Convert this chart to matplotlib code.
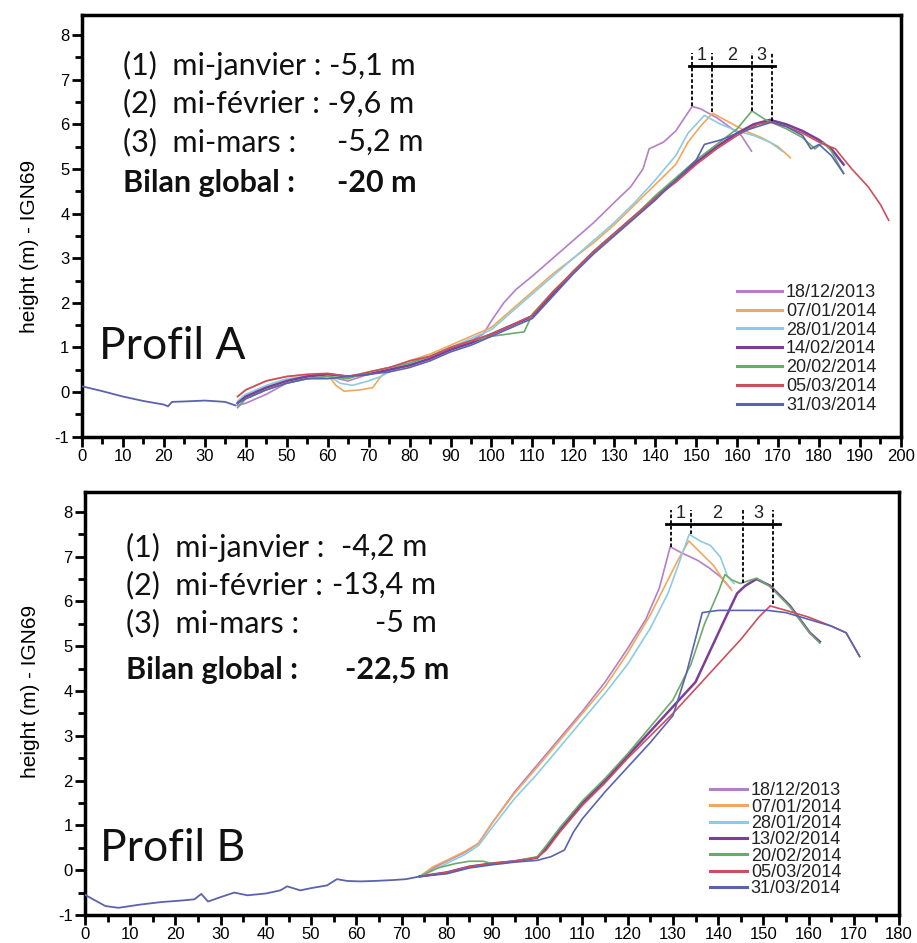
import numpy as np
import matplotlib.pyplot as plt
from matplotlib.ticker import MultipleLocator

plt.rcParams["axes.unicode_minus"] = False

# ---------------- Profil A ----------------
a_common_x = [0, 5, 10, 15, 20, 21, 22, 25, 30, 35, 37.5]
a_common_y = [0.13, 0.02, -0.1, -0.2, -0.28, -0.32, -0.22, -0.21, -0.19, -0.22, -0.3]

a_dates = ["18/12/2013", "07/01/2014", "28/01/2014", "14/02/2014",
           "20/02/2014", "05/03/2014", "31/03/2014"]

a_x = [
    [38, 40, 45, 50, 55, 60, 65, 70, 75, 80, 85, 90, 95, 98, 100, 103, 106, 110, 115, 120,
     125, 130, 134, 137, 138.5, 142, 145, 149, 151, 155, 158, 161, 163.5],
    [38, 40, 45, 50, 55, 60, 62, 64, 68, 71, 73, 75, 80, 85, 90, 95, 100, 105, 110, 115,
     120, 125, 130, 135, 140, 145, 148, 151, 154, 158, 162, 166, 170, 173],
    [38, 40, 45, 50, 55, 60, 63, 66, 70, 73, 75, 80, 85, 90, 95, 100, 105, 110, 115, 120,
     125, 130, 135, 140, 145, 148, 152, 156, 160, 164, 168, 171],
    [38, 40, 45, 50, 55, 60, 65, 70, 75, 80, 85, 90, 95, 100, 105, 110, 115, 120, 125, 130,
     135, 140, 145, 150, 155, 160, 164, 168, 172, 176, 180, 183, 186],
    [38, 40, 45, 50, 55, 60, 65, 70, 75, 80, 85, 90, 95, 100, 104, 108, 110, 115, 120, 125,
     130, 135, 140, 145, 150, 155, 160, 163.6, 167, 172, 176, 179, 181, 183, 186],
    [38, 40, 45, 50, 55, 60, 65, 70, 75, 80, 85, 90, 95, 100, 105, 110, 115, 120, 125, 130,
     135, 140, 145, 150, 155, 160, 165, 168, 172, 176, 180, 184, 188, 192, 195, 197],
    [38, 40, 45, 50, 55, 60, 65, 70, 75, 80, 85, 90, 95, 100, 105, 110, 115, 120, 125, 130,
     135, 140, 145, 150, 152, 156, 160, 165, 168.5, 172, 176, 178, 180, 183, 186],
]
a_y = [
    [-0.3, -0.25, -0.05, 0.2, 0.3, 0.35, 0.25, 0.4, 0.5, 0.6, 0.75, 0.95, 1.15, 1.3, 1.6, 2.0,
     2.3, 2.6, 3.0, 3.4, 3.8, 4.25, 4.6, 5.0, 5.45, 5.6, 5.85, 6.4, 6.35, 6.15, 5.95, 5.75, 5.4],
    [-0.1, 0.05, 0.25, 0.35, 0.38, 0.4, 0.15, 0.02, 0.05, 0.1, 0.35, 0.5, 0.7, 0.85, 1.05, 1.25,
     1.45, 1.85, 2.25, 2.65, 3.0, 3.35, 3.75, 4.2, 4.65, 5.1, 5.6, 5.95, 6.25, 6.05, 5.85, 5.7,
     5.5, 5.25],
    [-0.2, -0.05, 0.15, 0.3, 0.35, 0.38, 0.2, 0.15, 0.25, 0.35, 0.45, 0.65, 0.8, 1.0, 1.2, 1.4,
     1.8, 2.2, 2.6, 3.0, 3.4, 3.8, 4.25, 4.75, 5.3, 5.8, 6.2, 6.0, 5.85, 5.75, 5.6, 5.4],
    [-0.25, -0.1, 0.1, 0.25, 0.35, 0.4, 0.35, 0.4, 0.5, 0.6, 0.75, 0.95, 1.1, 1.3, 1.5, 1.7,
     2.2, 2.7, 3.15, 3.55, 3.95, 4.35, 4.75, 5.15, 5.5, 5.8, 6.0, 6.1, 6.0, 5.85, 5.65, 5.45, 5.1],
    [-0.35, -0.15, 0.05, 0.2, 0.3, 0.35, 0.3, 0.45, 0.55, 0.65, 0.8, 1.0, 1.15, 1.25, 1.3, 1.35,
     1.75, 2.25, 2.7, 3.15, 3.55, 3.95, 4.4, 4.8, 5.2, 5.55, 5.9, 6.3, 6.1, 5.9, 5.7, 5.45, 5.6,
     5.4, 4.9],
    [-0.1, 0.05, 0.25, 0.35, 0.4, 0.42, 0.35, 0.45, 0.55, 0.7, 0.8, 1.0, 1.15, 1.3, 1.5, 1.72,
     2.25, 2.7, 3.15, 3.55, 3.95, 4.35, 4.7, 5.1, 5.45, 5.75, 6.0, 6.05, 5.95, 5.8, 5.6, 5.45,
     5.0, 4.6, 4.2, 3.85],
    [-0.25, -0.15, 0.05, 0.2, 0.3, 0.3, 0.35, 0.4, 0.45, 0.55, 0.7, 0.9, 1.05, 1.25, 1.45, 1.65,
     2.15, 2.65, 3.1, 3.5, 3.9, 4.3, 4.75, 5.2, 5.55, 5.65, 5.8, 5.95, 6.05, 5.95, 5.75, 5.45,
     5.55, 5.3, 4.9],
]

# crest markers (dashed lines) Profil A
a_crest_x = [148.9, 153.9, 163.6, 168.4]
a_crest_y = [6.42, 6.28, 6.3, 6.08]
a_bar_y = 7.3
a_bar_top = 7.6
a_bar_span = [148.2, 169.3]

a_labels = ["(1)  mi-janvier : -5,1 m", "(2)  mi-février : -9,6 m", "(3)  mi-mars :", "Bilan global :"]
a_values = ["", "", "-5,2 m", "-20 m"]

# ---------------- Profil B ----------------
b_common_x = [0, 4.5, 7.4, 12, 17, 21, 24.2, 25.7, 27.2, 30, 33, 35.9, 40, 43.2, 44.7, 47.6,
              50, 53.5, 55.7, 58, 60.8, 64, 68.1, 71, 74]
b_common_y = [-0.55, -0.8, -0.84, -0.77, -0.71, -0.68, -0.65, -0.53, -0.7, -0.6, -0.5, -0.56,
              -0.52, -0.45, -0.36, -0.45, -0.4, -0.34, -0.2, -0.24, -0.25, -0.24, -0.22, -0.2,
              -0.14]

b_dates = ["18/12/2013", "07/01/2014", "28/01/2014", "13/02/2014",
           "20/02/2014", "05/03/2014", "31/03/2014"]

b_x = [
    [74, 77, 80, 84, 87, 90, 95, 100, 105, 110, 115, 120, 124, 127, 129.4, 132, 135.4, 138,
     140.5, 142.7],
    [74, 77, 80, 84, 87, 90, 95, 100, 105, 110, 115, 120, 125, 128, 131, 133.5, 136, 139, 141,
     143],
    [74, 77, 80, 84, 87, 90, 95, 100, 105, 110, 115, 120, 125, 129, 131.5, 133.6, 136, 138.3,
     140.5, 142, 143.5],
    [74, 80, 85, 90, 95, 100, 102, 105, 110, 115, 120, 125, 130, 135, 138, 141, 144.2, 146,
     148.5, 151.5, 155.9, 160.3, 162.5],
    [74, 78, 82, 85, 88, 90, 95, 100, 102, 105, 110, 115, 120, 125, 130, 134, 137, 140, 141.5,
     143, 144.9, 148.5, 151.5, 155.9, 160.3, 162.5],
    [74, 80, 85, 90, 95, 100, 102, 105, 110, 115, 120, 125, 130, 136.2, 140, 145, 149, 151.5,
     155, 160, 165, 168.3, 171.3],
    [74, 80, 85, 90, 95, 100, 103, 106, 108, 110, 115, 120, 125, 130, 133, 136.5, 140, 145, 151,
     155, 160, 165, 168.3, 171.3],
]
b_y = [
    [-0.14, 0.05, 0.2, 0.4, 0.6, 1.05, 1.75, 2.35, 2.95, 3.55, 4.2, 4.95, 5.6, 6.3, 7.22, 7.08,
     6.92, 6.75, 6.55, 6.3],
    [-0.14, 0.08, 0.22, 0.42, 0.6, 1.05, 1.72, 2.3, 2.9, 3.5, 4.1, 4.85, 5.7, 6.3, 6.9, 7.35,
     7.1, 6.8, 6.5, 6.25],
    [-0.14, 0.0, 0.15, 0.35, 0.55, 0.95, 1.6, 2.15, 2.75, 3.35, 3.95, 4.6, 5.4, 6.2, 6.9, 7.5,
     7.35, 7.25, 6.99, 6.58, 6.4],
    [-0.14, -0.05, 0.08, 0.15, 0.2, 0.28, 0.5, 0.9, 1.5, 2.0, 2.55, 3.1, 3.65, 4.2, 4.85, 5.5,
     6.18, 6.35, 6.5, 6.35, 5.9, 5.3, 5.1],
    [-0.14, 0.05, 0.15, 0.2, 0.2, 0.15, 0.2, 0.3, 0.55, 0.95, 1.55, 2.05, 2.6, 3.2, 3.8, 4.6,
     5.5, 6.2, 6.6, 6.48, 6.4, 6.52, 6.33, 5.88, 5.29, 5.07],
    [-0.14, -0.05, 0.08, 0.15, 0.2, 0.28, 0.45, 0.85, 1.45, 1.95, 2.5, 3.0, 3.5, 4.18, 4.6, 5.15,
     5.65, 5.9, 5.8, 5.65, 5.45, 5.3, 4.77],
    [-0.14, -0.08, 0.05, 0.12, 0.18, 0.22, 0.3, 0.45, 0.85, 1.15, 1.75, 2.3, 2.85, 3.45, 4.4,
     5.75, 5.8, 5.8, 5.8, 5.75, 5.6, 5.45, 5.3, 4.77],
]

b_crest_x = [129.6, 134.0, 145.6, 152.2]
b_crest_y = [7.22, 7.5, 6.42, 5.95]
b_bar_y = 7.72
b_bar_top = 8.05
b_bar_span = [128.5, 153.7]

b_labels = ["(1)  mi-janvier :", "(2)  mi-février :", "(3)  mi-mars :", "Bilan global :"]
b_values = ["-4,2 m", "-13,4 m", "-5 m", "-22,5 m"]

colors = ["#b57ec9", "#f2a75c", "#8ccbe3", "#7c3f97", "#6aab6a", "#cd4f5d", "#5b63ad"]
widths = [1.2, 1.2, 1.2, 1.8, 1.2, 1.2, 1.2]

fig = plt.figure(figsize=(9.17, 9.43), dpi=100)
axA = fig.add_axes([0.0894, 0.5369, 0.8931, 0.4472])
axB = fig.add_axes([0.0927, 0.0297, 0.8877, 0.4489])

tick_font = ["Liberation Sans", "DejaVu Sans"]
text_font = ["Lato", "DejaVu Sans"]


def style_axes(ax, xmax):
    ax.set_xlim(0, xmax)
    ax.set_ylim(-1, 8.45)
    ax.xaxis.set_major_locator(MultipleLocator(10))
    ax.xaxis.set_minor_locator(MultipleLocator(5))
    ax.yaxis.set_major_locator(MultipleLocator(1))
    ax.yaxis.set_minor_locator(MultipleLocator(0.5))
    ax.tick_params(which="major", direction="out", length=7, width=2, labelsize=12,
                   top=False, right=False, pad=2)
    ax.tick_params(which="minor", direction="out", length=5, width=2, top=False, right=False)
    for lab in ax.get_xticklabels() + ax.get_yticklabels():
        lab.set_family(tick_font)
    for sp in ax.spines.values():
        sp.set_linewidth(2.5)
    ax.set_ylabel("height (m) - IGN69", fontsize=15, family=tick_font)


def draw_profile(ax, cx, cy, xs, ys, dates, crest_x, crest_y, bar_y, bar_top, bar_span,
                 labels, values, val_x, line_y, text_size, name, name_xy, leg_anchor,
                 leg_spacing, handle_len):
    for i, (x, y) in enumerate(zip(xs, ys)):
        ax.plot(x, y, color=colors[i], lw=widths[i], label=dates[i], zorder=3)
    ax.plot(cx, cy, color=colors[6], lw=1.3, zorder=3)

    # crest migration markers
    for x0, y0 in zip(crest_x, crest_y):
        ax.plot([x0, x0], [y0, bar_top], color="black", lw=1.3, ls=(0, (2, 1.2)), zorder=4)
    ax.plot(bar_span, [bar_y, bar_y], color="black", lw=2, zorder=4)
    for k in range(3):
        xm = (crest_x[k] + crest_x[k + 1]) / 2
        ax.text(xm, bar_y + 0.05, str(k + 1), ha="center", va="bottom",
                fontsize=13, family=tick_font, color="#222222")

    for k, (lab, val) in enumerate(zip(labels, values)):
        weight = "bold" if k == 3 else "normal"
        ax.text(0.05, line_y[k], lab, transform=ax.transAxes, fontsize=text_size,
                family=text_font, weight=weight, va="center", ha="left", color="#111111")
        if val:
            ax.text(val_x[k], line_y[k], val, transform=ax.transAxes, fontsize=text_size,
                    family=text_font, weight=weight, va="center", ha="left", color="#111111")

    ax.text(name_xy[0], name_xy[1], name, transform=ax.transAxes, fontsize=32,
            family=text_font, va="center", ha="left", color="#111111")

    leg = ax.legend(loc="upper left", bbox_to_anchor=leg_anchor, frameon=False,
                    prop={"family": tick_font, "size": 13},
                    handlelength=handle_len, handletextpad=0.2, labelspacing=leg_spacing,
                    borderpad=0, borderaxespad=0)
    for h in leg.get_lines():
        h.set_linewidth(2.2)
    for t in leg.get_texts():
        t.set_color("#222222")


style_axes(axA, 200)
style_axes(axB, 180)

draw_profile(axA, a_common_x, a_common_y, a_x, a_y, a_dates, a_crest_x, a_crest_y,
             a_bar_y, a_bar_top, a_bar_span, a_labels, a_values,
             [0.311, 0.311, 0.311, 0.311], [0.881, 0.791, 0.699, 0.602], 22,
             "Profil A", (0.021, 0.213), (0.80, 0.362), 0.1, 2.5)

draw_profile(axB, b_common_x, b_common_y, b_x, b_y, b_dates, b_crest_x, b_crest_y,
             b_bar_y, b_bar_top, b_bar_span, b_labels, b_values,
             [0.314, 0.304, 0.356, 0.319], [0.869, 0.780, 0.690, 0.579], 22,
             "Profil B", (0.018, 0.158), (0.768, 0.313), -0.04, 2.05)

axA.yaxis.set_label_coords(-0.052, 0.45)
axB.yaxis.set_label_coords(-0.055, 0.527)

fig.savefig("out.png", dpi=100)
